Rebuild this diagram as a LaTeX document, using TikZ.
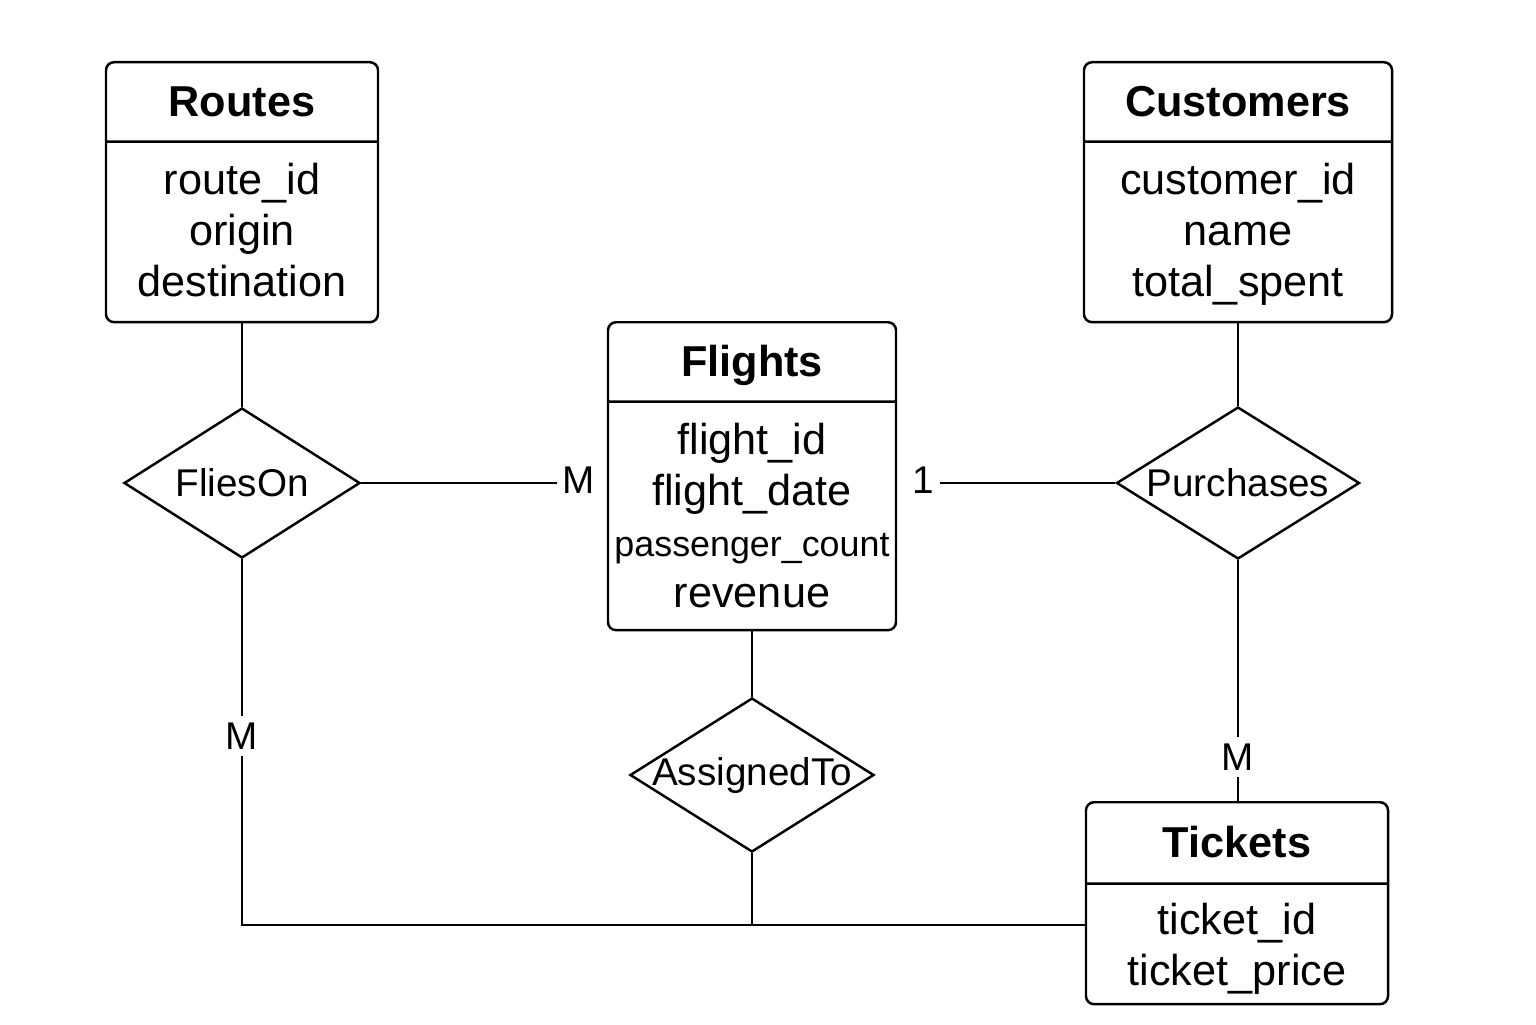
\documentclass[tikz,border=0pt]{standalone}
\usepackage{fontspec}
\setmainfont{Liberation Sans}
\usetikzlibrary{shapes.multipart,shapes.geometric,positioning}

\newcommand{\titlestrut}{\rule[-0.24cm]{0pt}{0.77cm}}
\newcommand{\attrfirst}{\rule{0pt}{0.52cm}}
\newcommand{\attrlast}{\rule[-0.24cm]{0pt}{0pt}}

\tikzset{
  entity/.style={draw, rectangle split, rectangle split parts=2, rounded corners=0.8mm,
    align=center, inner xsep=0pt, inner ysep=0pt, anchor=north,
    font=\fontsize{12.3pt}{0.51cm}\selectfont},
  relation/.style={draw, diamond, inner sep=0pt, font=\fontsize{11pt}{13pt}\selectfont},
  card/.style={inner sep=0.5mm, font=\fontsize{11pt}{13pt}\selectfont}
}

\begin{document}
\begin{tikzpicture}[line width=0.7pt]
  \useasboundingbox[fill=white] (0,0) rectangle (15.36,10.24);

  % entities
  \node[entity, text width=2.72cm] (routes) at (2.42,9.63)
    {\titlestrut\bfseries Routes \nodepart{two}\attrfirst route\_id\\ origin\\ destination\attrlast};
  \node[entity, text width=3.08cm] (customers) at (12.38,9.63)
    {\titlestrut\bfseries Customers \nodepart{two}\attrfirst customer\_id\\ name\\ total\_spent\attrlast};
  \node[entity, text width=2.88cm] (flights) at (7.52,7.03)
    {\titlestrut\bfseries Flights \nodepart{two}\attrfirst flight\_id\\ flight\_date\\
     {\fontsize{10.2pt}{0.51cm}\selectfont passenger\_count}\\ revenue\rule[-0.21cm]{0pt}{0pt}};
  \node[entity, text width=3.02cm] (tickets) at (12.37,2.23)
    {\rule[-0.25cm]{0pt}{0.79cm}\bfseries Tickets \nodepart{two}\rule{0pt}{0.50cm}ticket\_id\\ ticket\_price\rule[-0.17cm]{0pt}{0pt}};

  % relationships
  \node[relation, minimum width=2.36cm, minimum height=1.50cm] (flieson) at (2.42,5.41) {\makebox[0pt]{FliesOn}};
  \node[relation, minimum width=2.43cm, minimum height=1.52cm] (purchases) at (12.38,5.41) {\makebox[0pt]{Purchases}};
  \node[relation, minimum width=2.44cm, minimum height=1.54cm] (assigned) at (7.52,2.49) {\makebox[0pt]{AssignedTo}};

  % cardinalities
  \node[card] (cardA) at (5.79,5.44) {M};
  \node[card] (cardB) at (9.23,5.44) {1};
  \node[card] (cardC) at (2.42,2.88) {M};
  \node[card] (cardD) at (12.38,2.67) {M};
  \coordinate (join) at (7.52,0.99);

  % connectors
  \draw (routes.south) -- (flieson.north);
  \draw (flieson.east) -- (flieson.east -| cardA.west);
  \draw (purchases.west -| cardB.east) -- (purchases.west);
  \draw (customers.south) -- (purchases.north);
  \draw (purchases.south) -- (cardD.north);
  \draw (cardD.south) -- (cardD.south |- tickets.north);
  \draw (flights.south) -- (assigned.north);
  \draw (flieson.south) -- (cardC.north);
  \draw (cardC.south) |- (join) -- (tickets.west |- join);
  \draw (assigned.south) -- (join);
\end{tikzpicture}
\end{document}
